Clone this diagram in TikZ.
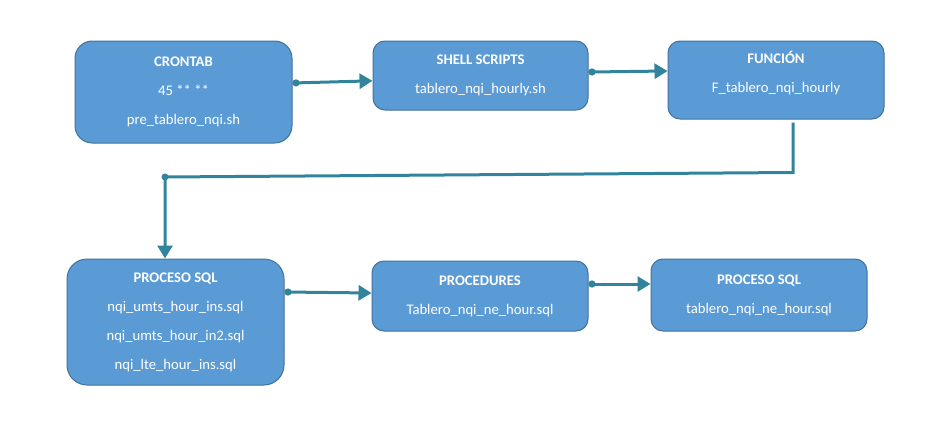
\documentclass[tikz,border=0pt]{standalone}
\usepackage{fontspec}
\setmainfont{Carlito}
\usetikzlibrary{
  arrows.meta,
  positioning,
}
\definecolor{boxfill}{HTML}{5B9BD5}
\definecolor{boxline}{HTML}{41719C}
\definecolor{flow}{HTML}{31849B}
\def\px{0.75pt}
\tikzset{
  semithick,
  my block/.style={
    draw=boxline,
    fill=boxfill,
    line width=0.75pt,
    text=white,
    align=center,
    inner sep=0pt,
    rounded corners=9pt,
    font=\fontsize{11}{21.75}\selectfont
  },
  my flow/.style={
    draw=flow,
    line width=2.25pt,
    -{Triangle[length=9.75pt,width=11.25pt]}
  },
  my dot flow/.style={
    my flow,
    {Circle[length=5.25pt]}-{Triangle[length=9.75pt,width=11.25pt]}
  }
}

\begin{document}
\begin{tikzpicture}[x=\px,y=-\px]
\useasboundingbox (0,0) rectangle (932,432);
% top row
\node[my block,minimum width=217*\px,minimum height=102*\px,rounded corners=13pt]
  (cron) at (183.5,92) {\textbf{CRONTAB}\\45 ** **\\pre\_tablero\_nqi.sh};
\node[my block,minimum width=215*\px,minimum height=69*\px]
  (shell) at (480.5,75.5) {\textbf{SHELL SCRIPTS}\\tablero\_nqi\_hourly.sh};
\node[my block,minimum width=216*\px,minimum height=78*\px]
  (func) at (776,80) {\textbf{FUNCIÓN}\\F\_tablero\_nqi\_hourly\\[-10pt]\mbox{}};
% bottom row
\node[my block,minimum width=217*\px,minimum height=126*\px,rounded corners=15pt]
  (sql) at (175.5,322) {\textbf{PROCESO SQL}\\nqi\_umts\_hour\_ins.sql\\nqi\_umts\_hour\_in2.sql\\nqi\_lte\_hour\_ins.sql};
\node[my block,minimum width=216*\px,minimum height=70*\px]
  (proc) at (480,296) {\textbf{PROCEDURES}\\Tablero\_nqi\_ne\_hour.sql};
\node[my block,minimum width=216*\px,minimum height=72*\px]
  (sqlne) at (759,295) {\textbf{PROCESO SQL}\\tablero\_nqi\_ne\_hour.sql};
% connectors
\coordinate (bend) at (165,177);
\draw[my dot flow] ([yshift=6.75pt]cron.east) -- ([yshift=-4pt]shell.west);
\draw[my dot flow] ([yshift=2.6pt]shell.east) -- ([yshift=6.75pt]func.west);
\draw[my flow] ([xshift=17*\px,yshift=-3*\px]func.south) -- ++(0,50) -- (bend) -- (bend |- sql.north);
\fill[flow] (bend) circle (3.5*\px);
\draw[my dot flow] ([yshift=22.5pt]sql.east) -- ([yshift=2.25pt]proc.west);
\draw[my dot flow] ([yshift=9pt]proc.east) -- ([yshift=8.25pt]sqlne.west);
\end{tikzpicture}
\end{document}
